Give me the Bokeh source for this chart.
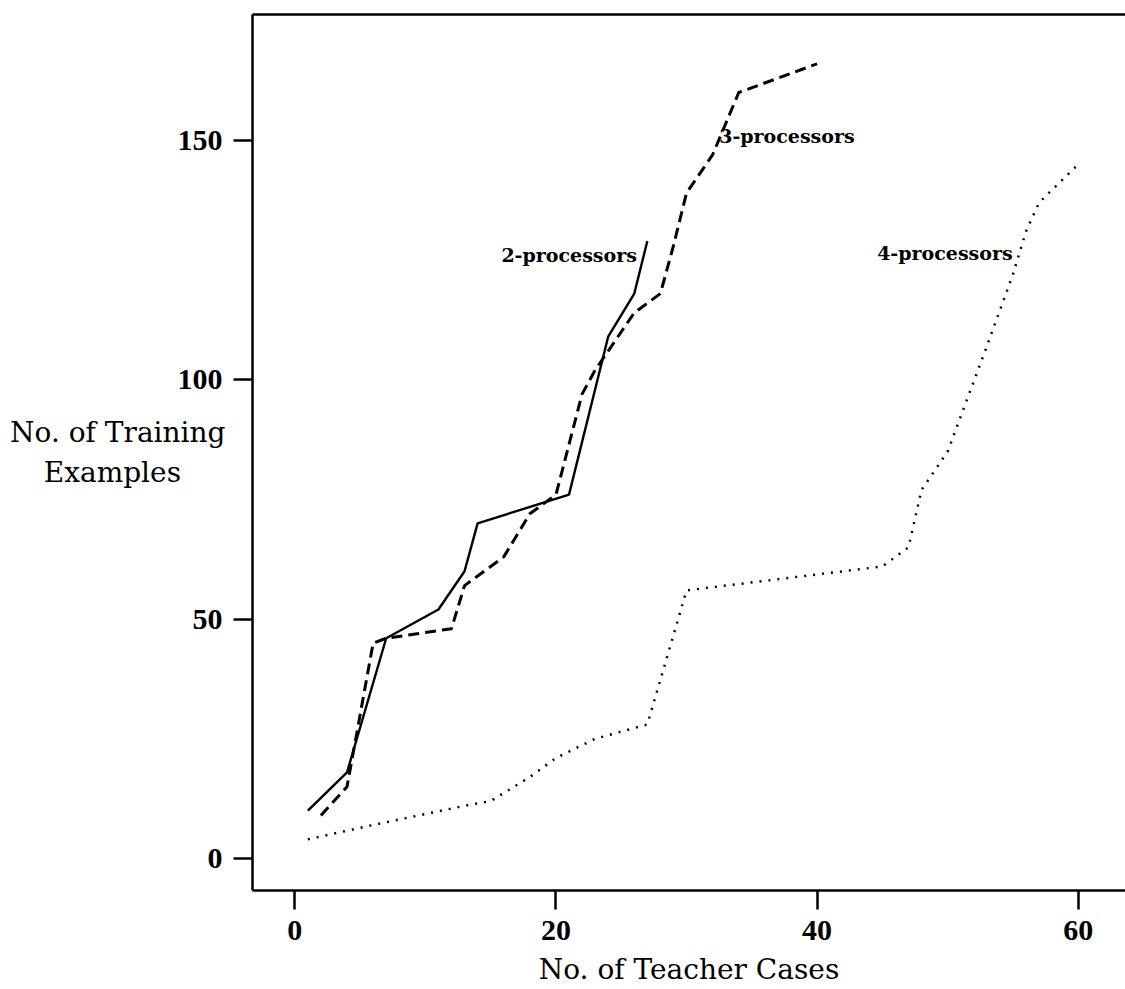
from bokeh.plotting import figure
from bokeh.models import Range1d, LinearAxis, FixedTicker, Label
from bokeh.embed import file_html
from bokeh.resources import INLINE

# Training examples needed as the number of teacher cases grows
two_proc_cases = [1, 4, 7, 11, 13, 14, 21, 24, 26, 27]
two_proc_examples = [10, 18, 46, 52, 60, 70, 76, 109, 118, 129]

three_proc_cases = [2, 4, 6, 7, 12, 13, 16, 18, 20, 22, 23, 26, 28, 29, 30, 32, 34, 40]
three_proc_examples = [9, 15, 45, 46, 48, 57, 63, 72, 76, 97, 102, 114, 118, 128, 139, 147, 160, 166]

four_proc_cases = [1, 6, 13, 15, 18, 20, 23, 27, 30, 33, 45, 47, 48, 50, 53, 55, 56, 57, 60]
four_proc_examples = [4, 7, 11, 12, 17, 21, 25, 28, 56, 57, 61, 65, 77, 85, 107, 122, 131, 137, 145]

x_ticks = [0, 20, 40, 60]
y_ticks = [0, 50, 100, 150]

SERIF = "DejaVu Serif"
TICK_FONT = "Liberation Serif"

p = figure(
    width=1125, height=989,
    x_range=Range1d(-3.24, 63.62), y_range=Range1d(-6.69, 176.3),
    output_backend="svg", toolbar_location=None,
    min_border_left=252, min_border_right=0, min_border_top=14, min_border_bottom=99,
)
p.background_fill_color = "white"
p.border_fill_color = "white"
p.outline_line_color = None
p.grid.visible = False

for ax in (p.xaxis[0], p.yaxis[0]):
    ax.axis_line_width = 2.5
    ax.axis_line_color = "black"
    ax.major_tick_line_width = 2.5
    ax.major_tick_line_color = "black"
    ax.major_tick_in = 0
    ax.major_tick_out = 19
    ax.minor_tick_line_color = None
    ax.major_label_standoff = 11
    ax.major_label_text_font = TICK_FONT
    ax.major_label_text_font_style = "bold"
    ax.major_label_text_font_size = "30px"
    ax.major_label_text_color = "black"
    ax.axis_label_text_font = SERIF
    ax.axis_label_text_font_style = "normal"
    ax.axis_label_text_font_size = "28px"
    ax.axis_label_text_color = "black"

p.xaxis[0].ticker = FixedTicker(ticks=x_ticks)
p.yaxis[0].ticker = FixedTicker(ticks=y_ticks)

p.xaxis[0].axis_label = "No. of Teacher Cases"
p.xaxis[0].axis_label_standoff = 10

# y title set horizontally in two lines, tucked in beside the tick labels;
# trailing no-break spaces keep the short second line centred under the first
p.yaxis[0].axis_label = "No. of Training\nExamples" + "\u00a0" * 5
p.yaxis[0].axis_label_orientation = "horizontal"
p.yaxis[0].axis_label_text_align = "center"
p.yaxis[0].axis_label_standoff = -51

# top border of the box (the right side stays open)
top = LinearAxis(ticker=FixedTicker(ticks=[]), axis_line_width=2.5, axis_line_color="black",
                 major_tick_line_color=None, minor_tick_line_color=None,
                 major_label_text_font_size="0px", major_label_standoff=0)
p.add_layout(top, "above")

# series
p.line(two_proc_cases, two_proc_examples, line_color="black", line_width=2.4)
p.line(three_proc_cases, three_proc_examples, line_color="black", line_width=3,
       line_dash="11 6")
p.line(four_proc_cases, four_proc_examples, line_color="black", line_width=2.5,
       line_dash="2 7")

label_style = dict(text_font=SERIF, text_font_size="19px", text_font_style="bold",
                   text_color="black", text_baseline="middle")
p.add_layout(Label(x=26.2, y=126, text="2-processors", text_align="right", **label_style))
p.add_layout(Label(x=32.5, y=151, text="3-processors", text_align="left", **label_style))
p.add_layout(Label(x=44.6, y=126.4, text="4-processors", text_align="left", **label_style))

open("out.html", "w").write(file_html(p, INLINE))
